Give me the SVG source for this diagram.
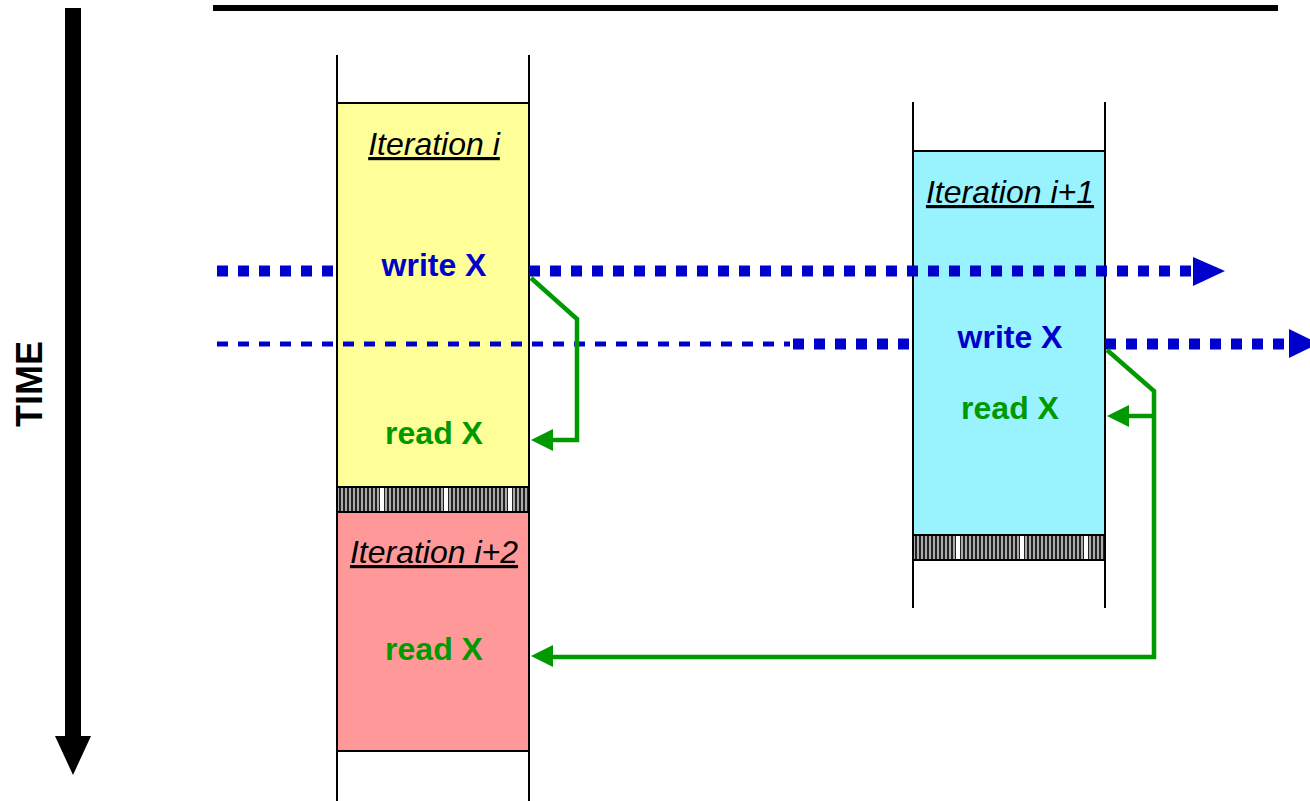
<svg xmlns="http://www.w3.org/2000/svg" width="1310" height="801" viewBox="0 0 1310 801">
<style>
.lane{stroke:#000;stroke-width:2;fill:none}
.box{stroke:#000;stroke-width:2}
.title{font-family:"Liberation Sans",Arial,sans-serif;font-size:32px;font-style:italic;text-decoration:underline;fill:#000;text-anchor:middle}
.op{font-family:"Liberation Sans",Arial,sans-serif;font-size:32px;font-weight:bold;text-anchor:middle}
.w{fill:#0000CC}
.r{fill:#009900}
.thick{stroke:#0000CC;stroke-width:11;stroke-dasharray:11 10;fill:none}
.thin{stroke:#0000CC;stroke-width:5;stroke-dasharray:11 10;fill:none}
.g{stroke:#009900;stroke-width:4.5;fill:none}
.gh{fill:#009900}
.bh{fill:#0000CC}
</style>
<defs>
<pattern id="hatch" x="0" y="0" width="64" height="25" patternUnits="userSpaceOnUse">
<rect width="64" height="25" fill="#222"/>
<rect x="1" width="2" height="25" fill="#aaa"/><rect x="5" width="2" height="25" fill="#aaa"/><rect x="9" width="2" height="25" fill="#aaa"/><rect x="13" width="2" height="25" fill="#aaa"/>
<rect x="17" width="2" height="25" fill="#aaa"/><rect x="21" width="2" height="25" fill="#aaa"/><rect x="25" width="2" height="25" fill="#aaa"/><rect x="29" width="2" height="25" fill="#aaa"/>
<rect x="33" width="2" height="25" fill="#aaa"/><rect x="37" width="2" height="25" fill="#aaa"/><rect x="41" width="2" height="25" fill="#aaa"/><rect x="45" width="2" height="25" fill="#aaa"/>
<rect x="49" width="2" height="25" fill="#aaa"/><rect x="53" width="2" height="25" fill="#aaa"/><rect x="57" width="2" height="25" fill="#aaa"/><rect x="60" width="4" height="25" fill="#fff"/>
</pattern>
</defs>
<rect width="1310" height="801" fill="#fff"/>

<g id="time-axis">
<rect x="65" y="8" width="16" height="730" fill="#000"/>
<polygon points="55,736 91,736 73,775" fill="#000"/>
<text transform="translate(42,384) rotate(-90)" font-family="Liberation Sans,Arial,sans-serif" font-size="36" font-weight="bold" text-anchor="middle">TIME</text>
</g>

<g id="top-line"><rect x="213" y="5" width="1065" height="6" fill="#000"/></g>

<g id="lane1">
<line class="lane" x1="337" y1="55" x2="337" y2="801"/>
<line class="lane" x1="529" y1="55" x2="529" y2="801"/>
</g>
<g id="lane2">
<line class="lane" x1="913" y1="102" x2="913" y2="608"/>
<line class="lane" x1="1105" y1="102" x2="1105" y2="608"/>
</g>

<g id="connectors-under">
<line class="thick" x1="217" y1="271" x2="337" y2="271"/>
</g>

<g id="iter-i">
<rect class="box" x="337" y="103" width="192" height="384" fill="#FFFF99"/>
<text class="title" x="434" y="155">Iteration i</text>
<text class="op w" x="434" y="276">write X</text>
<text class="op r" x="434" y="444">read X</text>
</g>
<g id="bar1"><rect class="box" x="337" y="487" width="192" height="25" fill="url(#hatch)"/></g>
<g id="iter-i2">
<rect class="box" x="337" y="512" width="192" height="239" fill="#FF9999"/>
<text class="title" x="434" y="563">Iteration i+2</text>
<text class="op r" x="434" y="660">read X</text>
</g>

<g id="iter-i1">
<rect class="box" x="913" y="151" width="192" height="384" fill="#99F3FF"/>
<text class="title" x="1010" y="203">Iteration i+1</text>
<text class="op w" x="1010" y="348">write X</text>
<text class="op r" x="1010" y="419">read X</text>
</g>
<g id="bar2"><rect class="box" x="913" y="535" width="192" height="25" fill="url(#hatch)"/></g>

<g id="connectors">
<line class="thick" x1="529" y1="271" x2="1193" y2="271"/>
<polygon class="bh" points="1193,257 1193,286 1225,271"/>
<line class="thin" x1="217" y1="344" x2="790" y2="344"/>
<line class="thick" x1="793" y1="344" x2="913" y2="344"/>
<line class="thick" x1="1105" y1="344" x2="1287" y2="344"/>
<polygon class="bh" points="1289,329 1289,358 1319,343.5"/>
<polyline class="g" points="531,278 577,319 577,440 550,440"/>
<polygon class="gh" points="531,440 553,429 553,451"/>
<polyline class="g" points="1107,350 1154,391 1154,657 550,657"/>
<polygon class="gh" points="531,656 553,645 553,667"/>
<line class="g" x1="1154" y1="416" x2="1125" y2="416"/>
<polygon class="gh" points="1107,416 1129,405 1129,427"/>
</g>
</svg>
